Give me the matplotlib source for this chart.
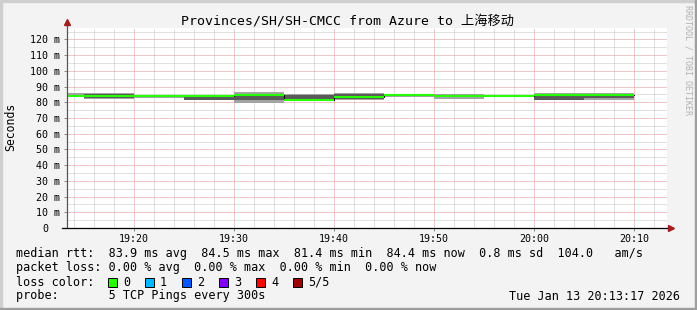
import matplotlib
matplotlib.use("Agg")
import matplotlib.pyplot as plt
from matplotlib.patches import Rectangle
from matplotlib.transforms import ScaledTranslation
import numpy as np

plt.rcParams['font.family'] = ['DejaVu Sans Mono', 'Noto Sans CJK SC']

title = "Provinces/SH/SH-CMCC from Azure to 上海移动"

# 5 min bins (the first one is cut by the view start)
time_edges = ["19:13:17", "19:15", "19:20", "19:25", "19:30", "19:35", "19:40",
              "19:45", "19:50", "19:55", "20:00", "20:05", "20:10"]
ping_min = [83.4, 82.0, 82.8, 81.3, 79.5, 80.7, 81.3, 83.2, 82.1, 83.8, 81.2, 81.5]
ping_lo  = [83.9, 82.6, 84.1, 81.6, 81.5, 81.0, 81.9, 84.4, 83.9, 83.9, 81.5, 82.8]
median   = [84.2, 84.0, 84.3, 83.7, 84.5, 81.4, 83.5, 84.5, 84.0, 84.0, 84.4, 84.4]
ping_hi  = [84.4, 85.3, 84.4, 84.0, 85.0, 84.7, 85.3, 84.6, 84.1, 84.1, 85.3, 84.5]
ping_max = [85.7, 85.9, 84.6, 84.7, 86.6, 85.3, 85.9, 84.7, 85.3, 84.2, 85.9, 85.9]

view_start = "19:13:17"
view_end = "20:13:17"
x_ticks = ["19:20", "19:30", "19:40", "19:50", "20:00", "20:10"]
y_ticks = [0, 10, 20, 30, 40, 50, 60, 70, 80, 90, 100, 110, 120]

rtt_line = "median rtt:  83.9 ms avg  84.5 ms max  81.4 ms min  84.4 ms now  0.8 ms sd  104.0   am/s"
loss_line = "packet loss: 0.00 % avg  0.00 % max  0.00 % min  0.00 % now"
probe_line = "probe:       5 TCP Pings every 300s"
stamp = "Tue Jan 13 20:13:17 2026"
loss_labels = ["0", "1", "2", "3", "4", "5/5"]
loss_colors = ["#26ff00", "#00b8ff", "#0059ff", "#7e00ff", "#ff0000", "#a00000"]


def to_min(s):
    parts = [int(p) for p in s.split(":")]
    sec = parts[2] if len(parts) > 2 else 0
    return (parts[0] - 19) * 60 + parts[1] + sec / 60.0


W, H = 697, 310
fig = plt.figure(figsize=(W / 100, H / 100), dpi=100, facecolor="#f3f3f3")

# frame (light top/left, dark bottom/right)
fig.patches.append(Rectangle((0, 0), 2 / W, 1, transform=fig.transFigure, color="#cfcfcf", zorder=0))
fig.patches.append(Rectangle((0, 1 - 2 / H), 1, 2 / H, transform=fig.transFigure, color="#cfcfcf", zorder=0))
fig.patches.append(Rectangle((1 - 2 / W, 0), 2 / W, 1, transform=fig.transFigure, color="#9e9e9e", zorder=0))
fig.patches.append(Rectangle((0, 0), 1, 2 / H, transform=fig.transFigure, color="#9e9e9e", zorder=0))

ax = fig.add_axes([67 / W, 1 - 228 / H, 600 / W, 200 / H])
ax.set_facecolor("white")
ax.set_xlim(to_min(view_start), to_min(view_end))
ax.set_ylim(0, 127.3)

t = np.array([to_min(s) for s in time_edges])
light, dark, green = "#a3a3a3", "#5a5a5a", "#26ff00"
for i in range(len(median)):
    xs = [t[i], t[i + 1]]
    ax.fill_between(xs, [ping_min[i]] * 2, [ping_max[i]] * 2, color=light, lw=0, zorder=2)
    ax.fill_between(xs, [ping_lo[i]] * 2, [ping_hi[i]] * 2, color=dark, lw=0, zorder=3)
ax.step(t, median + [median[-1]], where="post", color="black", lw=0.7, zorder=4)
ax.hlines(median, t[:-1], t[1:], color=green, lw=1.5, zorder=5)

# grid
ax.set_xticks([to_min(s) for s in x_ticks])
ax.set_xticklabels(x_ticks)
ax.set_xticks(np.arange(14, 74, 2), minor=True)
ax.set_yticks(y_ticks)
ax.set_yticklabels([f"{v} m" if v else "0" for v in y_ticks])
ax.set_yticks(np.arange(5, 127, 5), minor=True)
ax.grid(which="minor", color="#c2c2c2", ls=(0, (1, 1)), lw=0.72, zorder=1)
ax.grid(which="major", color="#e39090", ls=(0, (1, 1)), lw=0.72, zorder=1)
ax.set_axisbelow(True)
for s in ax.spines.values():
    s.set_visible(False)
ax.tick_params(which="minor", length=0)
ax.tick_params(which="major", length=2, width=0.7, color="#888888", labelsize=7.2)
ax.tick_params(axis="y", pad=3)
ax.tick_params(axis="x", pad=2.5)
# the "0" label sits under the digits, not under the unit
zero = ax.get_yticklabels()[0]
zero.set_transform(zero.get_transform() + ScaledTranslation(-0.12, 0, fig.dpi_scale_trans))

# axes lines + arrows
ax.plot([0, 0], [0, 1.02], transform=ax.transAxes, color="#555555", lw=0.9, clip_on=False, zorder=6)
ax.plot([-0.008, 1.004], [0, 0], transform=ax.transAxes, color="black", lw=0.9, clip_on=False, zorder=6)
ax.plot([0], [1.03], marker="^", ms=4.5, color="#a02020", transform=ax.transAxes, clip_on=False, zorder=7)
ax.plot([1.006], [0], marker=">", ms=4.5, color="#a02020", transform=ax.transAxes, clip_on=False, zorder=7)

fig.text(0.499, 1 - 21 / H, title, ha="center", va="center", fontsize=9.5)
fig.text(11 / W, 1 - 127 / H, "Seconds", rotation=90, ha="center", va="center", fontsize=8.3)
fig.text(688 / W, 1 - 60 / H, "RRDTOOL / TOBI OETIKER", rotation=270, ha="center", va="center",
         fontsize=6, color="#b0b0b0")

fs = 8.5
fig.text(16 / W, 1 - 254 / H, rtt_line, ha="left", va="center", fontsize=fs)
fig.text(16 / W, 1 - 268 / H, loss_line, ha="left", va="center", fontsize=fs)
fig.text(16 / W, 1 - 282 / H, "loss color:", ha="left", va="center", fontsize=fs)
fig.text(16 / W, 1 - 296 / H, probe_line, ha="left", va="center", fontsize=fs)
fig.text(680 / W, 1 - 296 / H, stamp, ha="right", va="center", fontsize=fs)

for i, (lab, col) in enumerate(zip(loss_labels, loss_colors)):
    bx = 108 + i * 37
    fig.patches.append(Rectangle((bx / W, 1 - 286.5 / H), 9 / W, 9 / H, transform=fig.transFigure,
                                 facecolor=col, edgecolor="black", lw=0.7))
    fig.text((bx + 15) / W, 1 - 282 / H, lab, ha="left", va="center", fontsize=fs)

fig.savefig("out.png", dpi=100, facecolor=fig.get_facecolor())
